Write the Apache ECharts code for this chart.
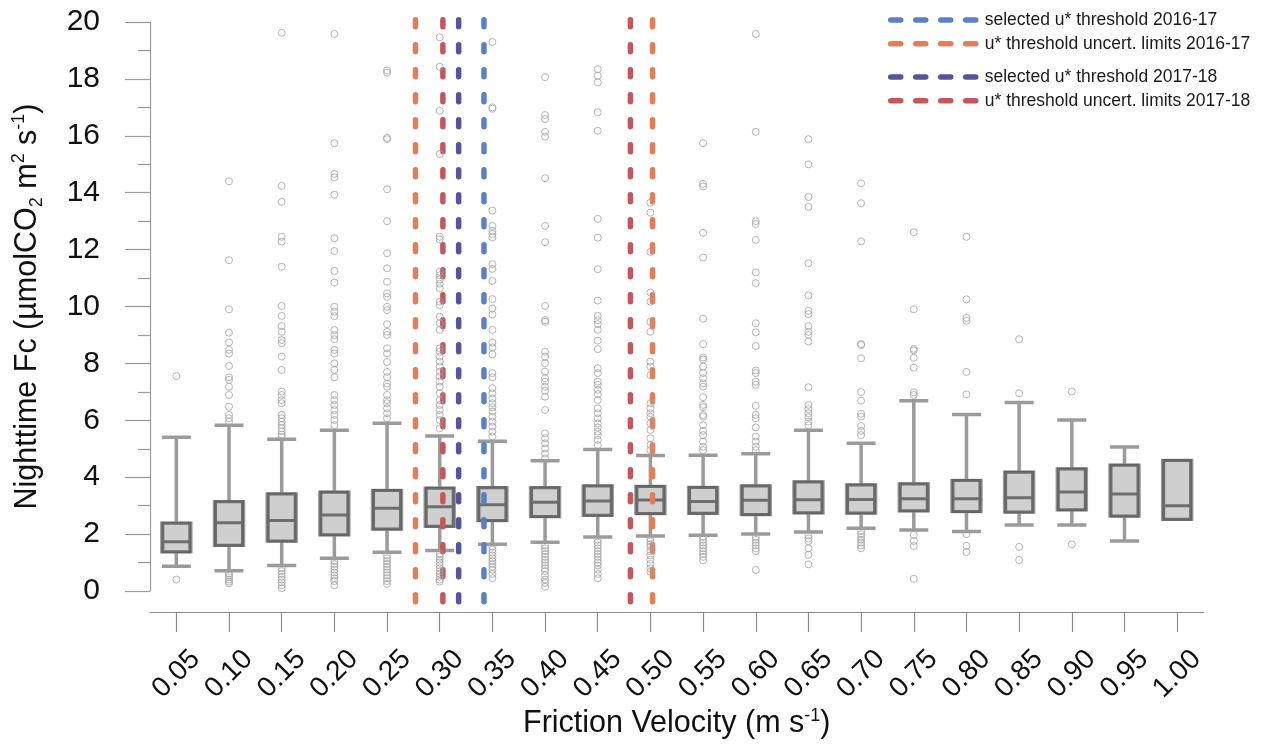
<!DOCTYPE html>
<html>
<head>
<meta charset="utf-8">
<script src="https://cdn.jsdelivr.net/npm/echarts@6/dist/echarts.min.js"></script>
<style>
html,body{margin:0;padding:0;background:#fff;}
#chart{width:1271px;height:744px;}
</style>
</head>
<body>
<div id="chart"></div>
<script>
// ---- data ----
const categories = ['0.05','0.10','0.15','0.20','0.25','0.30','0.35','0.40','0.45','0.50',
                    '0.55','0.60','0.65','0.70','0.75','0.80','0.85','0.90','0.95','1.00'];
const whiskerLow  = [0.87,0.71,0.90,1.15,1.36,1.42,1.64,1.71,1.90,1.93,1.96,2.00,2.07,2.21,2.14,2.09,2.32,2.32,1.76,2.52];
const q1          = [1.38,1.61,1.76,1.98,2.18,2.28,2.48,2.62,2.66,2.72,2.73,2.69,2.75,2.74,2.82,2.79,2.78,2.86,2.64,2.52];
const median      = [1.73,2.40,2.48,2.67,2.91,2.96,3.03,3.12,3.16,3.20,3.15,3.19,3.21,3.22,3.24,3.24,3.28,3.48,3.41,3.00];
const q3          = [2.38,3.14,3.41,3.47,3.53,3.61,3.63,3.63,3.69,3.67,3.64,3.69,3.83,3.73,3.76,3.88,4.17,4.29,4.42,4.59];
const whiskerHigh = [5.40,5.83,5.33,5.65,5.90,5.45,5.26,4.58,4.97,4.76,4.77,4.82,5.65,5.19,6.69,6.20,6.63,6.01,5.06,4.59];

const outliers = [
  [7.55,0.40],
  [14.40,11.63,9.90,9.08,8.74,8.48,8.35,7.91,7.51,7.42,7.18,6.89,6.48,6.19,6.07,5.95,0.62,0.55,0.48,0.40,0.33,0.27],
  [19.62,14.24,13.68,12.45,12.28,11.40,10.02,9.67,9.31,9.11,8.82,8.71,8.24,7.77,7.01,6.89,6.71,6.60,6.19,6.07,5.95,5.83,5.72,5.61,5.50,5.42,0.80,0.70,0.60,0.50,0.40,0.30,0.20,0.10],
  [19.58,15.74,14.66,14.54,13.93,12.40,11.95,11.25,10.84,9.99,9.82,9.66,9.17,9.00,8.85,8.47,8.35,8.00,7.77,7.51,6.89,6.71,6.54,6.36,6.19,6.01,5.83,1.05,0.95,0.85,0.75,0.65,0.55,0.45,0.35,0.20],
  [18.30,18.22,15.93,15.88,14.12,13.00,11.87,11.34,10.87,10.46,10.34,9.99,9.87,9.38,9.11,9.00,8.53,8.35,8.05,7.70,7.52,7.29,7.18,6.89,6.71,6.60,6.42,6.25,6.07,1.25,1.15,1.05,0.95,0.85,0.75,0.65,0.55,0.45,0.35,0.25],
  [19.46,18.43,16.88,15.36,12.45,12.36,11.22,11.10,10.95,10.80,10.64,10.17,10.05,9.64,9.41,9.18,8.53,8.41,8.24,8.06,7.89,7.71,7.54,7.36,7.18,6.95,6.71,6.54,6.36,6.19,6.01,5.72,1.30,1.20,1.10,1.00,0.90,0.80,0.70,0.60,0.50,0.40,0.33],
  [19.30,17.00,16.95,13.37,12.83,12.66,12.55,12.43,11.49,11.32,10.90,10.26,9.93,9.72,9.18,8.73,8.56,8.32,7.66,7.51,7.13,6.95,6.77,6.60,6.46,6.31,6.13,5.95,5.78,5.60,5.43,1.55,1.45,1.35,1.25,1.15,1.05,0.95,0.85,0.75,0.60,0.45],
  [18.06,16.73,16.59,16.14,15.97,14.51,12.83,12.26,10.02,9.52,9.46,8.41,8.24,8.00,7.71,7.48,7.36,7.18,7.04,6.83,6.36,5.54,5.37,5.19,5.01,4.83,4.66,1.60,1.50,1.40,1.30,1.20,1.10,1.00,0.90,0.80,0.70,0.55,0.40,0.28,0.15],
  [18.34,18.11,17.88,16.83,16.18,13.08,12.42,11.31,10.21,9.67,9.52,9.38,9.18,8.80,8.50,7.83,7.66,7.36,7.25,7.07,6.92,6.71,6.42,6.25,6.07,5.89,5.75,5.60,5.48,5.31,5.13,1.80,1.70,1.60,1.50,1.40,1.30,1.20,1.10,1.00,0.90,0.75,0.60,0.45],
  [13.65,13.30,11.92,10.49,10.17,9.46,9.11,8.06,7.89,7.59,6.60,6.42,6.25,6.13,5.89,5.66,5.37,5.13,4.95,1.85,1.75,1.65,1.55,1.40,1.25,1.10,0.95,0.80,0.68],
  [15.74,14.31,14.22,12.59,11.72,9.57,8.68,8.21,8.14,7.89,7.66,7.48,7.30,7.18,6.81,6.54,6.46,6.19,6.13,5.83,5.63,5.48,5.25,5.07,4.95,1.90,1.80,1.70,1.60,1.50,1.40,1.30,1.20,1.08],
  [19.58,16.14,13.00,12.90,12.34,11.20,10.82,9.41,9.09,8.61,7.75,7.66,7.36,7.25,6.51,6.19,6.07,5.75,5.43,5.25,5.07,4.95,1.90,1.80,1.70,1.60,1.50,1.40,0.74],
  [15.88,15.00,13.85,13.50,11.52,10.39,9.85,9.73,9.31,9.11,9.00,8.77,7.16,6.54,6.39,6.25,6.11,5.95,5.83,1.95,1.85,1.75,1.50,1.27,0.94],
  [14.33,13.63,12.29,8.68,8.65,8.18,6.99,6.69,6.23,6.13,5.80,5.63,5.48,2.10,2.00,1.90,1.80,1.70,1.60,1.50],
  [12.61,9.90,8.51,8.46,8.20,7.85,6.98,6.89,1.97,1.76,1.58,0.43],
  [12.45,10.25,9.60,9.50,7.70,6.91,2.00,1.59,1.37],
  [8.85,6.95,1.55,1.09],
  [7.01,1.64],
  [],
  []
];

const selected1617 = [0.342];
const limits1617   = [0.277, 0.502];
const selected1718 = [0.318];
const limits1718   = [0.303, 0.481];

const yTickMin = 0, yTickMax = 20, yTickStep = 2;

// ---- names / styles ----
const N_SEL_1617 = 'selected u* threshold 2016-17';
const N_LIM_1617 = 'u* threshold uncert. limits 2016-17';
const N_SEL_1718 = 'selected u* threshold 2017-18';
const N_LIM_1718 = 'u* threshold uncert. limits 2017-18';
const COL = {};
COL[N_SEL_1617] = '#5b80c8';
COL[N_LIM_1617] = '#e27e58';
COL[N_SEL_1718] = '#55559b';
COL[N_LIM_1718] = '#c2585b';

const FONT = 'Liberation Sans, Arial, Helvetica, sans-serif';
const LINE_TOP = 20.08, LINE_BOTTOM = -0.67; // vertical extent of threshold lines (drawing style)

const whiskerData = categories.map((c, i) => [whiskerLow[i], q1[i], median[i], q3[i], whiskerHigh[i]]);
const boxData = categories.map((c, i) => [q1[i], q1[i], median[i], q3[i], q3[i]]);
const outlierData = [];
outliers.forEach((arr, i) => arr.forEach(v => outlierData.push([i, v])));

function vline(name, u) {
  return {
    name: name,
    type: 'line',
    xAxisIndex: 2,
    yAxisIndex: 0,
    data: [[u, LINE_TOP], [u, LINE_BOTTOM]],
    symbol: 'none',
    clip: false,
    silent: true,
    z: 4,
    lineStyle: { color: COL[name], width: 5.5, type: [7, 18], cap: 'round' },
    itemStyle: { color: COL[name] }
  };
}

const thresholdSeries = [];
selected1617.forEach(u => thresholdSeries.push(vline(N_SEL_1617, u)));
limits1617.forEach(u => thresholdSeries.push(vline(N_LIM_1617, u)));
selected1718.forEach(u => thresholdSeries.push(vline(N_SEL_1718, u)));
limits1718.forEach(u => thresholdSeries.push(vline(N_LIM_1718, u)));

const legendCommon = {
  orient: 'vertical',
  left: 883,
  itemWidth: 89,
  itemHeight: 14,
  itemGap: 5.7,
  selectedMode: false,
  textStyle: { fontFamily: FONT, fontSize: 17.5, color: '#1a1a1a', lineHeight: 18 },
  itemStyle: { color: 'rgba(0,0,0,0)', borderColor: 'rgba(0,0,0,0)', borderWidth: 0, opacity: 0 },
  lineStyle: { width: 5.5, type: [10, 15], cap: 'round', inactiveWidth: 5.5 }
};

const grid = { left: 150, right: 67.5, top: 22, bottom: 153, containLabel: false, outerBoundsMode: 'none' };

const option = {
  animation: false,
  backgroundColor: '#ffffff',
  textStyle: { fontFamily: FONT },
  legend: [
    Object.assign({}, legendCommon, { top: 6, data: [N_SEL_1617, N_LIM_1617] }),
    Object.assign({}, legendCommon, { top: 63, data: [N_SEL_1718, N_LIM_1718] })
  ],
  grid: grid,
  xAxis: [
    {
      type: 'category',
      data: categories,
      boundaryGap: true,
      offset: 21,
      axisLine: { show: true, onZero: false, lineStyle: { color: '#8c8c8c', width: 1.2 } },
      axisTick: { show: true, alignWithLabel: true, length: 20, lineStyle: { color: '#8c8c8c', width: 1.2 } },
      axisLabel: {
        rotate: 45, align: 'center', verticalAlign: 'middle', margin: 62,
        fontSize: 28, color: '#111', fontFamily: FONT, interval: 0
      },
      splitLine: { show: false },
      name: '{a|Friction Velocity (m s}{c|-1}{a|)}',
      nameLocation: 'middle',
      nameGap: 95,
      nameMoveOverlap: false,
      nameTextStyle: {
        rich: {
          a: { fontSize: 30.5, color: '#111', fontFamily: FONT, lineHeight: 34 },
          c: { fontSize: 18, color: '#111', fontFamily: FONT, verticalAlign: 'top', lineHeight: 18 }
        }
      }
    },
    {
      type: 'category',
      data: categories,
      boundaryGap: true,
      show: false
    },
    {
      type: 'value',
      min: 0.025,
      max: 1.025,
      show: false
    }
  ],
  yAxis: [{
    type: 'value',
    min: yTickMin,
    max: yTickMax,
    interval: yTickStep,
    axisLine: { show: true, lineStyle: { color: '#9a9a9a', width: 1.2 } },
    axisTick: { show: true, length: 25, lineStyle: { color: '#9a9a9a', width: 1.2 } },
    minorTick: { show: true, splitNumber: 2, length: 12, lineStyle: { color: '#9a9a9a', width: 1.2 } },
    splitLine: { show: false },
    minorSplitLine: { show: false },
    axisLabel: { fontSize: 30, color: '#111', margin: 50, fontFamily: FONT },
    name: '{a|Nighttime Fc (µmolCO}{b|2}{a| m}{c|2}{a| s}{c|-1}{a|)}',
    nameLocation: 'middle',
    nameRotate: 90,
    nameGap: 104,
    nameTextStyle: {
      rich: {
        a: { fontSize: 30.5, color: '#111', fontFamily: FONT, lineHeight: 36 },
        b: { fontSize: 18, color: '#111', fontFamily: FONT, verticalAlign: 'bottom', lineHeight: 18 },
        c: { fontSize: 18, color: '#111', fontFamily: FONT, verticalAlign: 'top', lineHeight: 18 }
      }
    }
  }],
  series: [
    {
      name: 'whiskers',
      type: 'boxplot',
      xAxisIndex: 0,
      data: whiskerData,
      boxWidth: [29, 29],
      z: 2,
      silent: true,
      itemStyle: { color: '#cfcfcf', borderColor: '#9b9b9b', borderWidth: 3.5 }
    },
    {
      name: 'boxes',
      type: 'boxplot',
      xAxisIndex: 1,
      data: boxData,
      boxWidth: [27, 27],
      z: 3,
      silent: true,
      itemStyle: { color: '#cfcfcf', borderColor: 'rgba(85,85,85,0.8)', borderWidth: 3 }
    },
    {
      name: 'outliers',
      type: 'scatter',
      xAxisIndex: 0,
      data: outlierData,
      symbol: 'circle',
      symbolSize: 7,
      z: 5,
      silent: true,
      itemStyle: { color: 'rgba(255,255,255,0)', borderColor: '#a3a3a3', borderWidth: 1 }
    }
  ].concat(thresholdSeries)
};

const chart = echarts.init(document.getElementById('chart'), null, { renderer: 'canvas' });
chart.setOption(option);
</script>
</body>
</html>
